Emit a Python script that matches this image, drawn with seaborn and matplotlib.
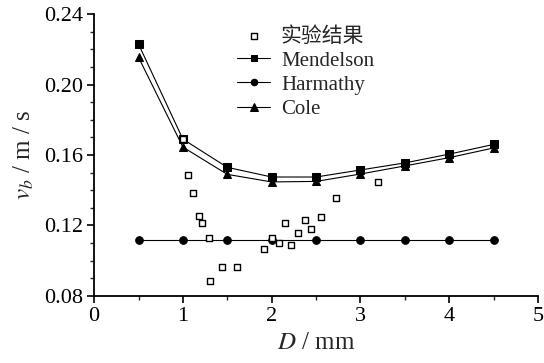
import numpy as np
import pandas as pd
import matplotlib
matplotlib.use("Agg")
import matplotlib.pyplot as plt
import seaborn as sns
from matplotlib.ticker import MultipleLocator, FormatStrFormatter

# model curves
d_model = [0.5, 1.0, 1.5, 2.0, 2.5, 3.0, 3.5, 4.0, 4.5]
v_mendelson = [0.223, 0.169, 0.153, 0.1475, 0.1475, 0.1515, 0.1555, 0.1605, 0.166]
v_harmathy = [0.112, 0.112, 0.112, 0.112, 0.112, 0.112, 0.112, 0.112, 0.112]
v_cole = [0.2155, 0.1645, 0.149, 0.1447, 0.145, 0.1492, 0.1538, 0.1585, 0.164]

# experimental points
d_exp = [1.0, 1.06, 1.11, 1.18, 1.22, 1.29, 1.30, 1.445, 1.607, 1.918, 2.0,
         2.08, 2.15, 2.22, 2.30, 2.37, 2.44, 2.556, 2.72, 3.20]
v_exp = [0.169, 0.1487, 0.1386, 0.1256, 0.1214, 0.1127, 0.0887, 0.0966, 0.0966,
         0.1065, 0.1127, 0.1102, 0.1216, 0.1088, 0.1159, 0.1231, 0.1178, 0.1246,
         0.1358, 0.1449]

labels = ["实验结果", "Mendelson", "Harmathy", "Cole"]

sns.set_style("ticks")
plt.rcParams["font.family"] = "Liberation Serif"
plt.rcParams["mathtext.fontset"] = "stix"

fig = plt.figure(figsize=(5.44, 3.63), dpi=100)
ax = fig.add_axes([0.173, 0.185, 0.816, 0.776])

models = pd.DataFrame({"D": d_model, "Mendelson": v_mendelson,
                       "Harmathy": v_harmathy, "Cole": v_cole})
exp = pd.DataFrame({"D": d_exp, "v": v_exp})

sns.lineplot(data=models, x="D", y="Mendelson", ax=ax, color="black", lw=0.8,
             marker="s", markersize=5.5, markeredgecolor="black", label=labels[1])
sns.lineplot(data=models, x="D", y="Harmathy", ax=ax, color="black", lw=0.8,
             marker="o", markersize=5.5, markeredgecolor="black", label=labels[2])
sns.lineplot(data=models, x="D", y="Cole", ax=ax, color="black", lw=0.8,
             marker="^", markersize=6, markeredgecolor="black", label=labels[3])
sns.scatterplot(data=exp, x="D", y="v", ax=ax, marker="s", s=20,
                facecolor="white", edgecolor="black", linewidth=1.0,
                zorder=5, label=labels[0])

ax.set_xlim(0, 5)
ax.set_ylim(0.08, 0.24)
ax.xaxis.set_major_locator(MultipleLocator(1))
ax.xaxis.set_minor_locator(MultipleLocator(0.5))
ax.yaxis.set_major_locator(MultipleLocator(0.04))
ax.yaxis.set_minor_locator(MultipleLocator(0.01))
ax.yaxis.set_major_formatter(FormatStrFormatter("%.2f"))
ax.tick_params(which="major", direction="out", length=5, width=1.2, labelsize=16,
               colors="black", pad=3)
ax.tick_params(which="minor", direction="out", length=3, width=1.0)
for s in ["left", "bottom"]:
    ax.spines[s].set_linewidth(1.3)
    ax.spines[s].set_color("black")
sns.despine(ax=ax)

ax.set_xlabel("$D$ / mm", fontsize=18, labelpad=4)
ax.set_ylabel("$v_b$ / m / s", fontsize=18, labelpad=6)

handles, labs = ax.get_legend_handles_labels()
order = [labs.index(l) for l in labels]
leg = ax.legend([handles[i] for i in order], [labs[i] for i in order],
                loc="upper left", bbox_to_anchor=(0.28, 1.03), frameon=False,
                prop={"family": "Liberation Serif", "size": 15},
                handlelength=1.6, handletextpad=0.5, labelspacing=0.22,
                markerscale=0.85)
leg.get_texts()[0].set_fontfamily(["Noto Sans CJK SC", "DejaVu Sans"])

fig.savefig("out.png", dpi=100)
